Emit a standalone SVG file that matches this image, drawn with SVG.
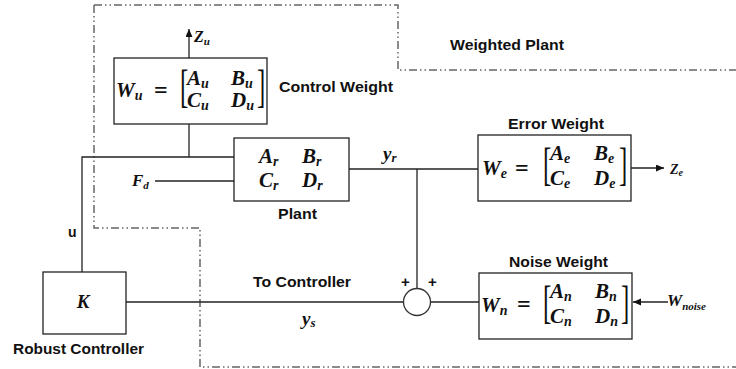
<svg xmlns="http://www.w3.org/2000/svg" width="736" height="369" viewBox="0 0 736 369">
<style>
.lbl{font-family:"Liberation Sans",Arial,sans-serif;font-weight:bold;font-size:15px;fill:#111}
.m{font-family:"Liberation Serif","Times New Roman",serif;font-weight:bold;font-style:italic;font-size:21px;fill:#111}
.s{font-size:14px}
.eq{font-family:"Liberation Serif","Times New Roman",serif;font-weight:bold;font-size:24px;fill:#111}
.br{font-family:"Liberation Serif","Times New Roman",serif;font-size:25px;fill:#111}
.box{fill:#fff;stroke:#222;stroke-width:1.3}
.ln{fill:none;stroke:#222;stroke-width:1.3}
.dash{fill:none;stroke:#666;stroke-width:1.5;stroke-dasharray:8 3 1.5 3 1.5 3}
</style>
<defs>
<marker id="arr" markerWidth="9" markerHeight="8" refX="8" refY="3.5" orient="auto" markerUnits="userSpaceOnUse">
<path d="M0,0 L8,3.5 L0,7 z" fill="#111"/>
</marker>
</defs>
<rect width="736" height="369" fill="#fff"/>

<g id="boundary">
<path class="dash" d="M94,5 H398 V70 H736"/>
<path class="dash" d="M94,5 V228 H200 V367 H736"/>
<text class="lbl" x="450" y="50" textLength="114" lengthAdjust="spacingAndGlyphs">Weighted Plant</text>
</g>

<g id="connectors">
<line class="ln" x1="189" y1="58" x2="189" y2="29" marker-end="url(#arr)"/>
<line class="ln" x1="189" y1="124" x2="189" y2="157"/>
<polyline class="ln" points="234,157 82,157 82,272"/>
<line class="ln" x1="155" y1="181" x2="234" y2="181"/>
<line class="ln" x1="349" y1="169" x2="478" y2="169"/>
<line class="ln" x1="417" y1="169" x2="417" y2="288.5"/>
<line class="ln" x1="631" y1="168" x2="664" y2="168" marker-end="url(#arr)"/>
<line class="ln" x1="126" y1="302" x2="403.5" y2="302"/>
<line class="ln" x1="430.5" y1="302" x2="479" y2="302"/>
<line class="ln" x1="668" y1="302" x2="633" y2="302" marker-end="url(#arr)"/>
<text class="m" x="194" y="42" style="font-size:16px">Z<tspan style="font-size:11px" dy="3">u</tspan></text>
<text class="m" x="132" y="186" style="font-size:17px">F<tspan style="font-size:11px" dy="3">d</tspan></text>
<text class="m" x="383" y="160" style="font-size:19px">y<tspan style="font-size:13px" dy="2">r</tspan></text>
<text class="m" x="670" y="174" style="font-size:14px">Z<tspan style="font-size:10px" dy="2">e</tspan></text>
<text class="m" x="667" y="306" style="font-size:17px">W<tspan style="font-size:11px" dy="4">noise</tspan></text>
<text class="m" x="302" y="325" style="font-size:19px">y<tspan style="font-size:13px" dy="2">s</tspan></text>
<text class="lbl" x="68" y="237" style="font-size:14px">u</text>
<text class="lbl" x="253" y="287" textLength="98" lengthAdjust="spacingAndGlyphs">To Controller</text>
</g>

<g id="control-weight">
<rect class="box" x="114" y="58" width="153" height="66"/>
<text class="m" x="116" y="97">W<tspan class="s" dy="3">u</tspan></text>
<text class="eq" x="154" y="98">=</text>
<text class="br" transform="translate(180,102) scale(1,1.9)">[</text>
<text class="br" transform="translate(257,102) scale(1,1.9)">]</text>
<text class="m" x="187" y="85">A<tspan class="s" dy="3">u</tspan></text>
<text class="m" x="231" y="85">B<tspan class="s" dy="3">u</tspan></text>
<text class="m" x="187" y="107">C<tspan class="s" dy="3">u</tspan></text>
<text class="m" x="231" y="107">D<tspan class="s" dy="3">u</tspan></text>
<text class="lbl" x="279" y="92" textLength="114" lengthAdjust="spacingAndGlyphs">Control Weight</text>
</g>

<g id="plant">
<rect class="box" x="234" y="138" width="115" height="63"/>
<text class="m" x="259" y="163">A<tspan class="s" dy="3">r</tspan></text>
<text class="m" x="302" y="163">B<tspan class="s" dy="3">r</tspan></text>
<text class="m" x="259" y="187">C<tspan class="s" dy="3">r</tspan></text>
<text class="m" x="302" y="187">D<tspan class="s" dy="3">r</tspan></text>
<text class="lbl" x="278" y="219" textLength="39" lengthAdjust="spacingAndGlyphs">Plant</text>
</g>

<g id="error-weight">
<rect class="box" x="478" y="135" width="153" height="66"/>
<text class="m" x="482" y="175">W<tspan class="s" dy="3">e</tspan></text>
<text class="eq" x="515" y="176">=</text>
<text class="br" transform="translate(543,180) scale(1,1.9)">[</text>
<text class="br" transform="translate(619,180) scale(1,1.9)">]</text>
<text class="m" x="550" y="160">A<tspan class="s" dy="3">e</tspan></text>
<text class="m" x="594" y="160">B<tspan class="s" dy="3">e</tspan></text>
<text class="m" x="550" y="185">C<tspan class="s" dy="3">e</tspan></text>
<text class="m" x="594" y="185">D<tspan class="s" dy="3">e</tspan></text>
<text class="lbl" x="508" y="129" textLength="96" lengthAdjust="spacingAndGlyphs">Error Weight</text>
</g>

<g id="noise-weight">
<rect class="box" x="479" y="273" width="153" height="66"/>
<text class="m" x="481" y="312">W<tspan class="s" dy="3">n</tspan></text>
<text class="eq" x="517" y="312">=</text>
<text class="br" transform="translate(543,318) scale(1,1.9)">[</text>
<text class="br" transform="translate(621,318) scale(1,1.9)">]</text>
<text class="m" x="550" y="298">A<tspan class="s" dy="3">n</tspan></text>
<text class="m" x="595" y="298">B<tspan class="s" dy="3">n</tspan></text>
<text class="m" x="550" y="323">C<tspan class="s" dy="3">n</tspan></text>
<text class="m" x="595" y="323">D<tspan class="s" dy="3">n</tspan></text>
<text class="lbl" x="509" y="267" textLength="99" lengthAdjust="spacingAndGlyphs">Noise Weight</text>
</g>

<g id="sum">
<circle cx="417" cy="302" r="13.5" fill="#fff" stroke="#333" stroke-width="1.3"/>
<text class="lbl" x="405.5" y="287" text-anchor="middle" style="font-size:15px">+</text>
<text class="lbl" x="432.5" y="287" text-anchor="middle" style="font-size:15px">+</text>
</g>

<g id="controller">
<rect class="box" x="43" y="272" width="83" height="62"/>
<text class="m" x="83" y="308" text-anchor="middle" style="font-size:19px">K</text>
<text class="lbl" x="13" y="354" textLength="131" lengthAdjust="spacingAndGlyphs">Robust Controller</text>
</g>
</svg>
